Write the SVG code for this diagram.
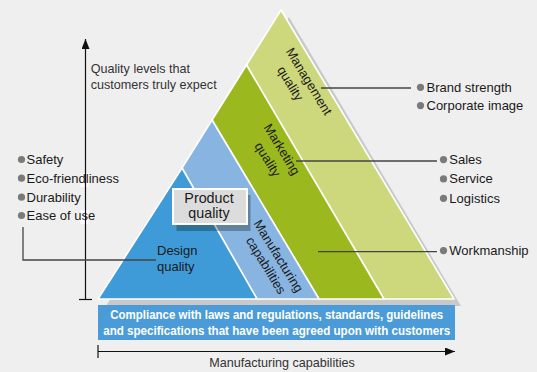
<svg xmlns="http://www.w3.org/2000/svg" width="537" height="372" viewBox="0 0 537 372">
<defs>
<style>
text{font-family:"Liberation Sans",Arial,sans-serif;}
.lbl{font-size:13px;fill:#1a1a1a;}
.ax{font-size:12.6px;fill:#333;}
.rot{font-size:13px;fill:#1a1a1a;text-anchor:middle;}
.band{stroke:#fff;stroke-width:1.6;stroke-linejoin:round;}
.lead{stroke:#444;stroke-width:1.3;fill:none;}
.axis{stroke:#111;stroke-width:1.2;fill:none;}
.dot{fill:#7a7a7a;}
.bn{font-size:12.5px;font-weight:bold;fill:#fff;text-anchor:middle;}
</style>
<marker id="ah" viewBox="0 0 10 8" refX="10" refY="4" markerWidth="10" markerHeight="8" markerUnits="userSpaceOnUse" orient="auto">
<path d="M0,0 L10,4 L0,8 Z" fill="#111"/>
</marker>
</defs>
<rect width="537" height="372" fill="#efefef"/>

<g id="shadow">
<polygon points="289,17 461,306 106,306" fill="#c9c9c9"/>
</g>

<g id="band-management">
<polygon class="band" points="281,10 454,299 384,299 246.5,65" fill="#cdd77b"/>
<text class="rot" transform="translate(305.2,83.7) rotate(58.5)">Management</text>
<text class="rot" transform="translate(286.5,85.7) rotate(58.5)">quality</text>
</g>
<g id="band-marketing">
<polygon class="band" points="246.5,65 384,299 319,299 212,120" fill="#9bb91f"/>
<text class="rot" transform="translate(278.2,151.7) rotate(58.5)">Marketing</text>
<text class="rot" transform="translate(263.9,161.7) rotate(58.5)">quality</text>
</g>
<g id="band-manufacturing">
<polygon class="band" points="212,120 319,299 257,299 182,168" fill="#88b4e1"/>
<text class="rot" transform="translate(274.7,258.4) rotate(58.5)">Manufacturing</text>
<text class="rot" transform="translate(262.2,267.7) rotate(58.5)">capabilities</text>
</g>
<g id="band-design">
<polygon class="band" points="182,168 257,299 98,299" fill="#3f9bd7"/>
<text class="lbl" x="157" y="255" font-size="13.4">Design</text>
<text class="lbl" x="157" y="270.7" font-size="13.4">quality</text>
</g>

<g id="product-quality">
<rect x="176.5" y="195" width="74" height="36" fill="#000" opacity="0.28"/>
<rect x="173" y="189" width="74" height="35" fill="#dcdcdc" stroke="#fff" stroke-width="2"/>
<text x="209" y="202.7" font-size="14.3" fill="#1a1a1a" text-anchor="middle">Product</text>
<text x="209" y="218.3" font-size="14.3" fill="#1a1a1a" text-anchor="middle">quality</text>
</g>

<g id="banner">
<rect x="98" y="305" width="357" height="35" fill="#4a9bd8"/>
<text class="bn" x="276.7" y="319.3" textLength="333" lengthAdjust="spacingAndGlyphs">Compliance with laws and regulations, standards, guidelines</text>
<text class="bn" x="276.7" y="335" textLength="347" lengthAdjust="spacingAndGlyphs">and specifications that have been agreed upon with customers</text>
</g>

<g id="list-left">
<rect x="80.5" y="173" width="8" height="14" fill="#fff"/>
<rect x="80.5" y="210" width="8" height="14" fill="#fff"/>
<circle class="dot" cx="21.5" cy="159.5" r="3.6"/>
<circle class="dot" cx="21.5" cy="178.2" r="3.6"/>
<circle class="dot" cx="21.5" cy="197.2" r="3.6"/>
<circle class="dot" cx="21.5" cy="215.5" r="3.6"/>
<text class="lbl" x="26.5" y="164" font-size="13.4">Safety</text>
<text class="lbl" x="26.5" y="182.7" font-size="13.4">Eco-friendliness</text>
<text class="lbl" x="26.5" y="201.7" font-size="13.4">Durability</text>
<text class="lbl" x="26.5" y="220" font-size="13.4">Ease of use</text>
</g>

<g id="list-management">
<circle class="dot" cx="420.5" cy="87.3" r="3.6"/>
<circle class="dot" cx="420.5" cy="105.6" r="3.6"/>
<text class="lbl" x="426.5" y="91.7">Brand strength</text>
<text class="lbl" x="426.5" y="110">Corporate image</text>
</g>

<g id="list-marketing">
<circle class="dot" cx="443.5" cy="159.6" r="3.6"/>
<circle class="dot" cx="443.5" cy="178.9" r="3.6"/>
<circle class="dot" cx="443.5" cy="198.3" r="3.6"/>
<text class="lbl" x="449.3" y="164">Sales</text>
<text class="lbl" x="449.3" y="183.3">Service</text>
<text class="lbl" x="449.3" y="202.7">Logistics</text>
</g>

<g id="list-workmanship">
<circle class="dot" cx="443.5" cy="250.6" r="3.6"/>
<text class="lbl" x="449.3" y="255">Workmanship</text>
</g>

<g id="axis-quality">
<text class="ax" x="90.7" y="73.3">Quality levels that</text>
<text class="ax" x="90.7" y="89.3">customers truly expect</text>
</g>
<g id="axis-manufacturing">
<text class="ax" x="282" y="367" text-anchor="middle">Manufacturing capabilities</text>
</g>

<g id="connectors">
<line class="axis" x1="85.5" y1="299.5" x2="85.5" y2="39" marker-end="url(#ah)"/>
<line class="axis" x1="79" y1="299.5" x2="92" y2="299.5"/>
<line class="axis" x1="98" y1="351.5" x2="455" y2="351.5" marker-end="url(#ah)"/>
<line class="axis" x1="98" y1="345" x2="98" y2="358"/>
<polyline class="lead" points="23,227 23,260 156,260"/>
<line class="lead" x1="321" y1="88" x2="411" y2="88"/>
<line class="lead" x1="296" y1="161" x2="437" y2="161"/>
<line class="lead" x1="318" y1="251.7" x2="437" y2="251.7"/>
</g>
</svg>
